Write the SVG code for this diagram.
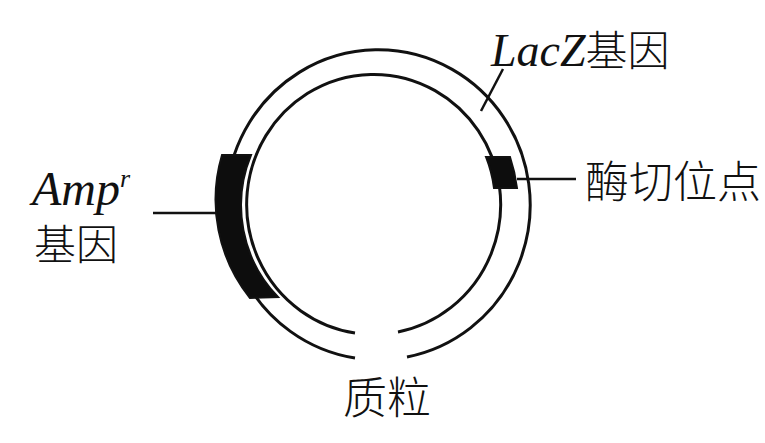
<svg xmlns="http://www.w3.org/2000/svg" width="765" height="443" viewBox="0 0 765 443">
  <style>
    .ring { fill: none; stroke: #111; stroke-width: 3; }
    .lead { fill: none; stroke: #111; stroke-width: 2.5; }
    .block { fill: #0d0d0d; stroke: #111; stroke-width: 2; }
    .cjk { font-family: "Liberation Serif", "Noto Sans CJK SC", serif; font-weight: 300; fill: #111; }
    .lat { font-family: "Liberation Serif", serif; font-style: italic; fill: #111; }
  </style>
  <rect width="765" height="443" fill="#fff"/>

  <!-- plasmid ring: two open arcs with a gap at the bottom -->
  <g id="plasmid">
    <path class="ring" d="M 355 358 A 152 155 0 1 1 407 357"/>
    <path class="ring" d="M 355 333 A 127 130 0 1 1 398 332"/>
  </g>

  <!-- AmpR gene region on the left of the ring -->
  <g id="amp-gene">
    <path class="block" d="M 222 155 A 152 155 0 0 0 250 298 L 278 297 A 127 130 0 0 1 251 155 Z"/>
  </g>

  <!-- restriction site on the right of the ring -->
  <g id="cut-site">
    <path class="block" d="M 510 157 A 152 155 0 0 1 517 188 L 494 188 A 127 130 0 0 0 486 157 Z"/>
  </g>

  <!-- leader lines -->
  <g id="connectors">
    <line class="lead" x1="153" y1="213" x2="216" y2="213"/>
    <line class="lead" x1="503" y1="69" x2="481" y2="111"/>
    <line class="lead" x1="517" y1="179" x2="576" y2="179"/>
  </g>

  <!-- labels -->
  <g id="label-amp">
    <text class="lat" x="32" y="205" font-size="48">Amp<tspan font-size="26" dy="-18">r</tspan></text>
    <text class="cjk" x="34" y="260" font-size="42">基因</text>
  </g>
  <g id="label-lacz">
    <text x="491" y="66"><tspan class="lat" font-size="46">LacZ</tspan><tspan class="cjk" font-size="42">基因</tspan></text>
  </g>
  <g id="label-site">
    <text class="cjk" x="585" y="198" font-size="44">酶切位点</text>
  </g>
  <g id="label-plasmid">
    <text class="cjk" x="343" y="414" font-size="44">质粒</text>
  </g>
</svg>
